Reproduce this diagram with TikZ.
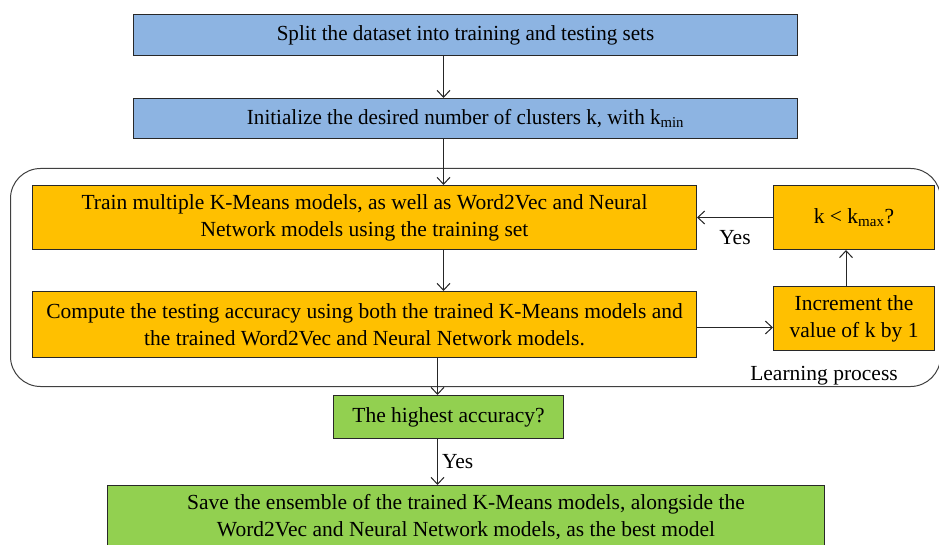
\documentclass[tikz,border=0pt]{standalone}
\usepackage{fontspec}
\setmainfont{Liberation Serif}
\usetikzlibrary{arrows.meta,calc}
\definecolor{bluebox}{RGB}{141,180,226}
\definecolor{orangebox}{RGB}{255,192,0}
\definecolor{greenbox}{RGB}{146,208,80}
\definecolor{edge}{RGB}{40,40,40}
\tikzset{
  box/.style={draw=edge, line width=1pt, inner sep=0pt, align=center, anchor=north west, text=black},
  conn/.style={draw=black!85, line width=1pt, -{Straight Barb[length=7pt,width=13pt,line width=1pt]}},
  lbl/.style={inner sep=0pt, text=black}
}
\begin{document}
\begin{tikzpicture}[x=1pt,y=-1pt,font=\fontsize{21.5}{27}\selectfont]
\useasboundingbox (0,0) rectangle (939,545);
\fill[white] (0,0) rectangle (939,545);
% container
\node[draw=black!75, line width=1pt, rounded corners=30pt, minimum width=930pt, minimum height=218pt, anchor=north west, inner sep=0pt] (lp) at (10,168) {};
\node[lbl] (lptext) at (824,376) {Learning process};
% boxes
\node[box, fill=bluebox, minimum width=664pt, minimum height=41pt] (split) at (133,14) {\scalebox{0.98}[1]{Split the dataset into training and testing sets}};
\node[box, fill=bluebox, minimum width=664pt, minimum height=40pt] (init) at (133,98) {\scalebox{0.98}[1]{Initialize the desired number of clusters k, with k\textsubscript{min}}};
\node[box, fill=orangebox, minimum width=664pt, minimum height=64pt] (train) at (32,185) {Train multiple K-Means models, as well as Word2Vec and Neural\\Network models using the training set};
\node[box, fill=orangebox, minimum width=664pt, minimum height=66pt] (compute) at (32,291) {Compute the testing accuracy using both the trained K-Means models and\\the trained Word2Vec and Neural Network models.};
\node[box, fill=orangebox, minimum width=161pt, minimum height=64pt] (kmax) at (773,185) {k < k\textsubscript{max}?};
\node[box, fill=orangebox, minimum width=161pt, minimum height=64pt] (incr) at (773,286) {Increment the\\value of k by 1};
\node[box, fill=greenbox, minimum width=230pt, minimum height=43pt] (highest) at (333,395) {The highest accuracy?};
\node[box, fill=greenbox, minimum width=717pt, minimum height=63pt] (save) at (107,485) {Save the ensemble of the trained K-Means models, alongside the\\Word2Vec and Neural Network models, as the best model};
% connectors
\draw[conn] ([xshift=-22pt]split.south) -- ([xshift=-22pt]init.north);
\draw[conn] ([xshift=-22pt]init.south) -- ([xshift=79pt]train.north);
\draw[conn] ([xshift=79pt]train.south) -- ([xshift=79pt]compute.north);
\draw[conn] ([yshift=-3pt]compute.east) -- ([yshift=-3pt]compute.east -| incr.west);
\draw[conn] ([xshift=-8pt]incr.north) -- ([xshift=-8pt]kmax.south);
\draw[conn] (kmax.west) -- (kmax.west -| train.east) node[lbl, midway, below=12pt] (yes1) {Yes};
\draw[conn] ([xshift=73pt]compute.south) -- ([xshift=-11pt]highest.north);
\draw[conn] ([xshift=-11pt]highest.south) -- ([xshift=-11pt]highest.south |- save.north) node[lbl, midway, right=4pt] (yes2) {Yes};
\end{tikzpicture}
\end{document}
